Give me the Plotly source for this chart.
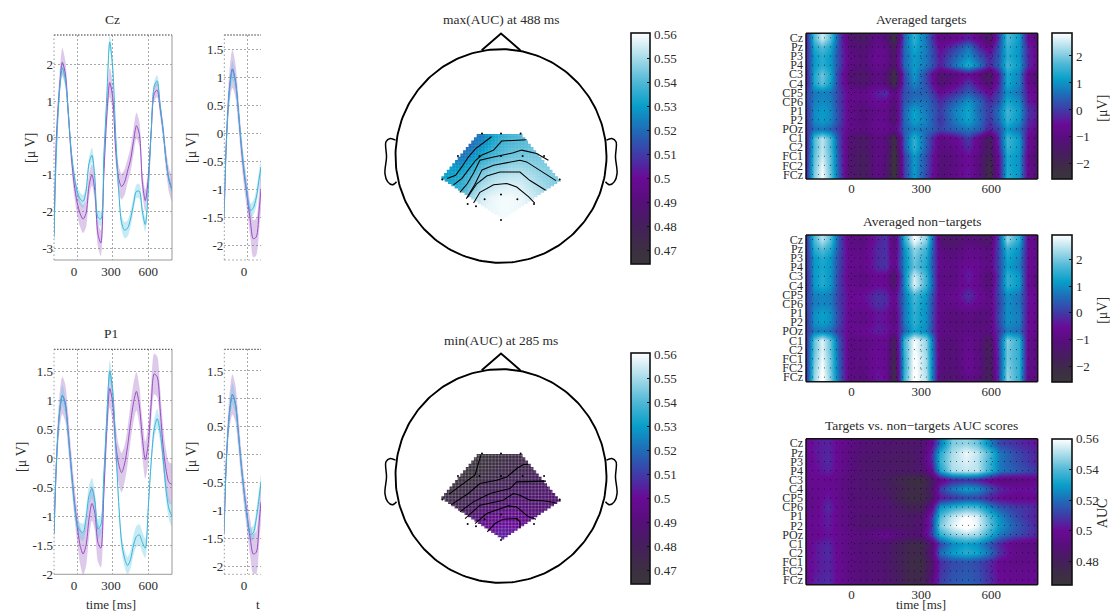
import numpy as np
import plotly.graph_objects as go

W, H = 1110, 612
FONT = "Liberation Serif"
INK = "#2b2b2b"

# ---------- time courses ----------
t_full = [-195,-175,-150,-125,-100,-75,-50,-25,0,25,50,75,100,125,150,175,200,225,250,275,300,325,350,375,400,425,450,475,500,525,550,575,600,625,650,675,700,725,750,775,800]
cz_target = [-2.6,0.0,1.3,2.05,1.75,0.7,-0.45,-1.25,-1.75,-2.05,-2.2,-2.05,-1.3,-1.0,-1.45,-2.6,-2.85,-1.0,0.6,1.5,1.1,-0.3,-1.1,-1.32,-1.2,-0.9,-0.6,-0.1,0.33,0.1,-1.2,-1.7,-1.1,0.2,1.2,1.3,0.8,0.2,-0.6,-1.15,-1.4]
cz_target_ci = [0.3,0.3,0.35,0.38,0.35,0.3,0.28,0.3,0.33,0.36,0.38,0.38,0.33,0.3,0.3,0.33,0.35,0.33,0.38,0.4,0.38,0.35,0.35,0.35,0.35,0.32,0.33,0.35,0.35,0.33,0.3,0.3,0.27,0.22,0.2,0.2,0.22,0.25,0.3,0.33,0.33]
cz_nontarget = [-2.7,-0.4,1.2,1.9,1.6,0.7,-0.35,-1.0,-1.45,-1.65,-1.72,-1.45,-0.7,-0.47,-1.1,-2.15,-2.2,-0.5,1.1,2.6,1.9,0.1,-1.4,-2.3,-2.5,-2.45,-2.2,-1.8,-1.45,-1.45,-2.0,-2.35,-1.4,0.2,1.4,1.55,0.9,0.2,-0.6,-1.15,-1.4]
cz_nontarget_ci = [0.12,0.12,0.15,0.18,0.16,0.13,0.13,0.14,0.15,0.17,0.17,0.17,0.18,0.2,0.18,0.18,0.2,0.17,0.17,0.2,0.18,0.15,0.15,0.2,0.22,0.22,0.22,0.2,0.18,0.2,0.2,0.2,0.17,0.13,0.13,0.15,0.13,0.12,0.12,0.12,0.12]
p1_target = [-1.3,-0.1,0.75,1.08,0.95,0.45,-0.15,-0.7,-1.15,-1.5,-1.65,-1.5,-1.05,-0.78,-0.95,-1.45,-1.55,-0.6,0.5,1.2,0.95,0.25,-0.1,-0.25,-0.1,0.2,0.6,0.95,1.15,0.9,0.35,-0.03,0.25,0.95,1.45,1.4,0.85,0.2,-0.2,-0.42,-0.45]
p1_target_ci = [0.25,0.28,0.3,0.32,0.32,0.3,0.28,0.28,0.28,0.32,0.36,0.36,0.32,0.3,0.3,0.33,0.33,0.3,0.3,0.33,0.33,0.33,0.33,0.34,0.32,0.32,0.32,0.33,0.33,0.33,0.32,0.32,0.33,0.33,0.35,0.35,0.35,0.35,0.35,0.35,0.35]
p1_nontarget = [-1.3,-0.1,0.75,1.08,0.9,0.4,-0.2,-0.75,-1.15,-1.25,-1.28,-1.05,-0.65,-0.52,-0.75,-1.22,-1.15,-0.3,0.7,1.5,1.15,0.25,-0.75,-1.45,-1.72,-1.85,-1.75,-1.5,-1.35,-1.32,-1.45,-1.55,-0.85,-0.05,0.5,0.68,0.45,0.0,-0.55,-0.88,-1.0]
p1_nontarget_ci = [0.1,0.12,0.15,0.18,0.15,0.12,0.12,0.13,0.13,0.14,0.15,0.17,0.18,0.18,0.17,0.17,0.17,0.15,0.15,0.18,0.15,0.13,0.13,0.15,0.15,0.15,0.15,0.17,0.18,0.18,0.18,0.17,0.15,0.15,0.17,0.17,0.17,0.17,0.18,0.18,0.18]

t_short = [-195,-175,-150,-125,-100,-75,-50,-25,0,25,50,75,100,115]
cz2_target = [-1.5,-0.1,0.8,1.15,0.95,0.4,-0.25,-0.75,-1.15,-1.55,-1.88,-1.85,-1.35,-1.0]
cz2_target_ci = [0.2,0.22,0.3,0.34,0.3,0.27,0.25,0.25,0.27,0.3,0.33,0.33,0.35,0.35]
cz2_nontarget = [-1.5,-0.15,0.75,1.12,0.92,0.4,-0.2,-0.7,-1.1,-1.38,-1.33,-1.15,-0.8,-0.6]
cz2_nontarget_ci = [0.1,0.12,0.15,0.18,0.15,0.13,0.13,0.13,0.12,0.12,0.13,0.15,0.15,0.15]
p12_target = [-1.4,-0.05,0.75,1.08,0.92,0.4,-0.2,-0.7,-1.12,-1.5,-1.78,-1.75,-1.2,-0.85]
p12_target_ci = [0.22,0.25,0.3,0.36,0.33,0.3,0.27,0.27,0.28,0.33,0.36,0.38,0.36,0.33]
p12_nontarget = [-1.4,-0.1,0.72,1.08,0.9,0.38,-0.2,-0.7,-1.15,-1.43,-1.4,-1.15,-0.75,-0.5]
p12_nontarget_ci = [0.1,0.12,0.15,0.2,0.17,0.13,0.13,0.13,0.12,0.12,0.13,0.15,0.15,0.15]

# ---------- channel × time maps ----------
channels = ["Cz","Pz","P3","P4","C3","C4","CP5","CP6","P1","P2","POz","C1","C2","FC1","FC2","FCz"]
t_amp = [-195,-160,-125,-90,-55,-10,50,110,150,185,225,270,320,380,440,500,550,590,630,670,720,760,800]
amp_targets = [
[-0.4,1.7,2.5,1.8,0.1,-1.3,-1.6,-0.9,-1.2,-2.4,0.4,1.5,0.6,-1.0,-0.8,-0.3,-0.9,-1.6,-0.1,1.7,1.1,-0.7,-1.1],
[-0.4,1.3,1.7,1.3,0.1,-1.0,-1.3,-0.7,-0.9,-1.7,0.5,1.3,0.7,-0.6,0.0,0.7,-0.2,-0.8,0.2,1.5,1.0,-0.3,-0.8],
[-0.3,1.1,1.4,1.1,0.1,-0.9,-1.2,-0.6,-0.8,-1.5,0.5,1.1,0.7,-0.4,0.4,1.0,0.3,-0.3,0.3,1.4,1.0,-0.3,-0.7],
[-0.3,1.1,1.4,1.1,0.1,-0.9,-1.2,-0.7,-0.9,-1.5,0.5,1.1,0.7,-0.3,0.6,1.4,0.7,-0.2,0.4,1.6,1.1,-0.2,-0.7],
[-0.5,1.3,1.9,1.3,-0.1,-1.2,-1.5,-0.9,-1.2,-2.3,0.1,1.1,0.1,-1.4,-1.1,-0.6,-1.1,-1.7,-0.4,1.3,0.8,-0.9,-1.2],
[-0.5,1.3,1.8,1.2,-0.1,-1.1,-1.4,-0.9,-1.2,-2.2,0.1,0.9,0.2,-1.3,-0.8,0.0,-0.7,-1.4,-0.3,1.3,0.8,-0.8,-1.1],
[0.0,0.7,0.8,0.7,0.0,-0.7,-0.8,-0.3,-0.1,-1.0,0.2,0.5,0.4,-0.6,-0.2,0.4,-0.1,-0.6,0.0,1.0,0.6,-0.5,-0.7],
[0.0,0.8,0.9,0.8,0.0,-0.8,-0.9,-0.5,-0.6,-1.2,0.3,0.7,0.6,-0.2,0.4,1.0,0.5,-0.2,0.2,1.3,0.9,-0.4,-0.6],
[-0.2,0.9,1.1,0.9,0.1,-0.8,-1.2,-0.8,-0.8,-1.4,0.5,1.2,0.7,0.0,0.8,1.25,0.5,0.0,0.6,1.6,1.1,-0.1,-0.4],
[-0.2,0.9,1.1,0.9,0.1,-0.8,-1.1,-0.7,-0.8,-1.4,0.5,1.2,0.8,-0.1,0.7,1.2,0.6,-0.1,0.5,1.5,1.0,-0.2,-0.5],
[-0.2,0.6,0.7,0.5,-0.1,-0.8,-1.0,-0.7,-0.7,-0.9,0.4,0.8,0.6,0.1,0.4,0.7,0.4,-0.3,0.1,1.1,0.6,-0.4,-0.7],
[-0.5,1.7,2.4,1.7,0.1,-1.2,-1.6,-0.9,-1.2,-2.3,0.3,1.5,0.4,-1.0,-0.7,0.0,-0.9,-1.8,-0.2,1.6,1.1,-0.7,-1.1],
[-0.5,1.7,2.4,1.7,0.1,-1.2,-1.5,-0.9,-1.0,-2.3,0.3,1.5,0.4,-1.0,-0.8,-0.2,-0.8,-1.7,-0.3,1.5,1.1,-0.7,-1.0],
[-0.4,1.8,2.5,1.8,0.2,-1.3,-1.7,-0.9,-1.2,-2.5,0.0,1.1,0.2,-1.2,-1.0,-0.5,-1.1,-1.9,-0.6,1.3,1.0,-0.9,-1.4],
[-0.4,1.9,2.7,1.8,0.2,-1.3,-1.7,-0.9,-1.2,-2.5,0.0,1.1,0.2,-1.2,-1.0,-0.5,-1.1,-2.2,-0.6,1.3,1.0,-0.8,-1.2],
[-0.4,2.0,2.8,1.9,0.3,-1.3,-1.7,-0.9,-1.3,-2.5,0.0,1.1,0.1,-1.2,-0.9,-0.4,-1.1,-2.2,-0.6,1.4,1.0,-0.8,-1.3],
]
amp_nontargets = [
[-0.2,1.7,2.4,1.8,0.2,-0.9,-1.1,-0.3,-0.1,-1.3,1.4,2.9,2.1,-1.3,-1.5,-1.1,-1.3,-1.5,0.1,2.2,1.4,-0.7,-0.9],
[-0.2,1.4,1.8,1.4,0.2,-0.8,-0.9,-0.2,-0.1,-1.1,1.0,2.2,1.6,-1.0,-1.2,-0.8,-0.9,-1.1,0.1,1.5,1.0,-0.6,-0.8],
[-0.2,1.1,1.4,1.1,0.1,-0.7,-0.8,-0.2,-0.1,-0.9,0.9,2.0,1.4,-0.9,-1.0,-0.7,-0.8,-1.0,0.1,1.3,0.9,-0.6,-0.8],
[-0.2,1.1,1.3,1.1,0.1,-0.7,-0.8,-0.2,-0.1,-0.9,0.9,1.9,1.3,-0.8,-0.9,-0.5,-0.7,-0.9,0.1,1.2,0.8,-0.6,-0.7],
[-0.3,1.1,1.4,1.1,0.0,-0.8,-1.0,-0.6,-0.7,-1.6,0.9,2.6,1.6,-1.0,-1.0,-0.3,-0.8,-1.3,0.0,1.5,1.1,-0.7,-1.0],
[-0.3,1.1,1.4,1.1,0.0,-0.7,-0.9,-0.5,-0.6,-1.4,0.9,2.7,1.6,-0.9,-0.9,-0.5,-0.8,-1.2,0.1,1.5,1.1,-0.7,-0.9],
[0.0,0.8,0.9,0.8,0.0,-0.6,-0.5,-0.1,-0.2,-0.8,0.7,1.7,1.1,-0.8,-0.7,-0.1,-0.6,-0.9,0.1,1.0,0.7,-0.5,-0.6],
[0.0,0.8,0.9,0.8,0.0,-0.6,-0.6,-0.1,-0.2,-0.8,0.7,1.6,1.0,-0.8,-0.8,-0.4,-0.7,-0.9,0.0,1.0,0.7,-0.5,-0.6],
[-0.1,1.0,1.2,1.0,0.1,-0.7,-0.9,-0.4,-0.5,-1.1,0.7,1.5,1.0,-0.9,-1.1,-0.9,-1.1,-1.1,0.1,1.0,0.8,-0.6,-0.7],
[-0.1,1.0,1.2,1.0,0.1,-0.7,-0.9,-0.4,-0.5,-1.1,0.7,1.5,1.0,-0.9,-1.1,-1.0,-1.1,-1.1,0.1,1.0,0.8,-0.6,-0.7],
[-0.1,0.7,0.8,0.6,-0.1,-0.7,-0.6,-0.3,-0.4,-0.9,0.5,1.3,0.9,-0.9,-1.0,-0.9,-1.0,-1.0,-0.1,0.8,0.6,-0.6,-0.7],
[-0.2,1.9,2.7,1.9,0.3,-0.9,-1.0,-0.7,-0.7,-1.8,1.6,2.9,2.2,-1.1,-1.1,-0.7,-1.0,-1.7,0.0,2.1,1.5,-0.8,-1.0],
[-0.2,1.9,2.7,1.9,0.3,-0.9,-0.9,-0.6,-0.7,-1.9,1.6,2.9,2.2,-1.1,-1.2,-0.7,-1.1,-1.8,0.0,2.0,1.5,-0.8,-1.0],
[-0.2,2.0,2.8,2.0,0.4,-0.9,-1.0,-0.5,-0.7,-2.0,1.5,3.0,2.3,-1.1,-1.2,-0.6,-1.0,-1.8,-0.1,2.0,1.5,-0.8,-1.0],
[-0.2,2.1,2.9,2.0,0.4,-0.9,-1.0,-0.5,-0.7,-2.1,1.5,3.0,2.3,-1.1,-1.2,-0.6,-1.0,-1.8,-0.1,2.1,1.5,-0.8,-1.0],
[-0.2,2.2,3.0,2.1,0.5,-0.9,-1.1,-0.4,-0.6,-2.2,1.6,3.0,2.4,-1.2,-1.3,-0.8,-1.1,-1.9,-0.1,2.2,1.5,-0.9,-1.0],
]
t_auc = [-195,-150,-100,-50,0,50,100,150,200,250,300,340,380,430,490,540,590,640,700,750,800]
auc_scores = [
[.499,.503,.505,.498,.494,.489,.488,.487,.486,.485,.486,.497,.522,.545,.548,.543,.525,.512,.508,.505,.502],
[.498,.503,.506,.497,.492,.488,.487,.485,.484,.484,.487,.505,.535,.55,.558,.553,.54,.522,.514,.509,.505],
[.497,.502,.507,.497,.492,.486,.485,.484,.483,.483,.487,.505,.537,.551,.556,.552,.538,.522,.515,.51,.505],
[.498,.501,.505,.497,.492,.486,.486,.485,.484,.484,.486,.498,.532,.550,.553,.552,.537,.522,.517,.513,.51],
[.497,.499,.498,.495,.49,.487,.485,.482,.476,.471,.470,.482,.495,.505,.508,.505,.498,.492,.492,.494,.497],
[.496,.498,.500,.495,.49,.487,.486,.483,.479,.474,.473,.483,.510,.523,.530,.527,.516,.506,.502,.502,.503],
[.494,.498,.503,.495,.49,.488,.488,.486,.477,.472,.472,.483,.503,.508,.513,.512,.505,.5,.497,.498,.499],
[.495,.498,.507,.496,.491,.489,.49,.488,.483,.478,.478,.495,.528,.535,.54,.538,.525,.515,.51,.508,.505],
[.498,.499,.504,.496,.491,.487,.487,.487,.485,.484,.487,.507,.54,.553,.56,.556,.54,.526,.514,.508,.504],
[.498,.499,.504,.496,.491,.486,.487,.487,.485,.484,.487,.507,.545,.556,.565,.557,.543,.528,.518,.511,.505],
[.497,.498,.502,.497,.495,.492,.495,.498,.492,.488,.49,.51,.535,.545,.55,.548,.535,.522,.514,.51,.505],
[.497,.503,.506,.497,.492,.489,.488,.486,.48,.474,.473,.487,.512,.525,.53,.527,.516,.505,.495,.493,.492],
[.497,.503,.507,.497,.493,.49,.489,.487,.48,.475,.475,.49,.52,.53,.535,.532,.522,.508,.497,.495,.495],
[.498,.503,.506,.498,.493,.49,.489,.486,.48,.473,.472,.485,.507,.513,.515,.513,.507,.498,.495,.495,.497],
[.498,.503,.506,.498,.493,.49,.489,.487,.481,.474,.473,.486,.508,.514,.516,.514,.507,.499,.497,.497,.499],
[.498,.505,.507,.498,.493,.49,.489,.487,.482,.475,.475,.49,.51,.515,.517,.515,.508,.5,.498,.498,.5],
]

# ---------- scalp maps (scalp coordinates: nose up, radius 1) ----------
scalp_x = [-0.56,-0.47,-0.375,-0.28,-0.19,-0.09,0,.09,.19,.28,.375,.47,.56]
scalp_y = [0.205,0.105,0.005,-0.095,-0.195,-0.295,-0.395,-0.495,-0.595]
auc_max = [
[.518,.518,.519,.520,.522,.530,.535,.538,.540,.541,.542,.542,.542],
[.518,.518,.518,.520,.526,.533,.538,.540,.541,.542,.543,.543,.543],
[.524,.522,.521,.526,.533,.538,.541,.543,.544,.544,.544,.544,.544],
[.530,.529,.528,.533,.540,.544,.546,.548,.548,.547,.546,.545,.544],
[.530,.531,.534,.540,.546,.550,.552,.553,.553,.551,.548,.546,.544],
[.532,.533,.536,.544,.551,.554,.556,.557,.556,.553,.550,.547,.545],
[.534,.535,.540,.549,.555,.558,.559,.559,.558,.555,.552,.548,.545],
[.536,.537,.542,.552,.557,.558,.559,.559,.558,.556,.553,.549,.546],
[.538,.539,.544,.553,.557,.558,.559,.559,.558,.556,.553,.549,.546],
]
auc_min = [
[.466,.466,.466,.466,.466,.467,.470,.472,.473,.474,.474,.475,.475],
[.466,.466,.466,.466,.467,.470,.472,.473,.474,.476,.477,.478,.478],
[.467,.467,.467,.468,.470,.473,.475,.476,.477,.478,.479,.480,.480],
[.468,.469,.470,.472,.475,.477,.478,.480,.481,.482,.483,.484,.484],
[.470,.472,.474,.477,.480,.481,.483,.484,.486,.486,.485,.486,.486],
[.473,.475,.478,.481,.485,.487,.489,.491,.490,.488,.488,.487,.486],
[.477,.479,.482,.487,.491,.494,.497,.498,.497,.493,.490,.489,.488],
[.481,.483,.487,.491,.496,.500,.503,.502,.499,.497,.493,.491,.490],
[.485,.487,.490,.494,.498,.503,.505,.503,.500,.498,.495,.493,.492],
]
diamond_x = [-0.205,0.205,0.565,0.0,-0.565]
diamond_y = [0.205,0.205,-0.22,-0.595,-0.22]
electrode_x = [-0.18,0,0.186,-0.408,-0.205,0,0.205,0.408,-0.556,0.556,-0.316,-0.155,0,0.155,0.313,0,-0.237]
electrode_y = [0.21,0.21,0.21,0,0,0,0,0,-0.22,-0.22,-0.45,-0.405,-0.36,-0.405,-0.45,-0.6,-0.47]
contours_max = [
 [(-.51,-.21),(-.43,-.18),(-.37,-.10),(-.31,-.01),(-.24,.07),(-.17,.12),(-.09,.18)],
 [(-.45,-.27),(-.37,-.21),(-.31,-.13),(-.24,-.04),(-.18,.01),(-.07,.055),(.006,.14),(.149,.147),(.243,.153)],
 [(-.39,-.34),(-.32,-.26),(-.26,-.16),(-.2,-.04),(-.07,-.01),(.117,.03),(.196,.055),(.338,.024),(.449,-.04)],
 [(-.33,-.40),(-.25,-.27),(-.18,-.13),(-.07,-.086),(.18,-.04),(.243,-.055),(.521,-.23)],
 [(-.32,-.39),(-.23,-.26),(-.136,-.187),(-.01,-.15),(.18,-.15),(.275,-.23),(.423,-.32)],
 [(-.26,-.44),(-.2,-.34),(-.07,-.27),(.054,-.257),(.149,-.29),(.26,-.38),(.32,-.44)],
]
contours_min = [
 [(-.493,-.17),(-.356,-.07),(-.246,.01),(-.215,.117),(-.19,.195)],
 [(-.474,-.27),(-.31,-.164),(-.2,-.07),(-.04,-.04),(.054,-.01),(.149,.07),(.212,.108),(.259,.108)],
 [(-.389,-.335),(-.262,-.242),(-.104,-.164),(.085,-.117),(.149,-.055),(.275,-.055),(.427,-.048)],
 [(-.341,-.398),(-.199,-.273),(.022,-.226),(.117,-.164),(.18,-.18),(.275,-.226),(.401,-.232),(.518,-.25)],
 [(-.246,-.445),(-.136,-.351),(.07,-.28),(.149,-.29),(.26,-.382),(.332,-.404)],
 [(-.13,-.523),(-.057,-.445),(.022,-.404),(.149,-.398),(.18,-.429),(.18,-.485)],
]
nose_x = [-0.183,0,0.183]
nose_y = [0.99,1.147,0.99]
ear_x = [1.0,1.05,1.09,1.085,1.10,1.075,1.03,0.99]
ear_y = [0.148,0.164,0.133,-0.01,-0.165,-0.24,-0.27,-0.24]

# ---------- shared style ----------
scale_stops = [(0,"#3a363c"),(.06,"#3c2f42"),(.164,"#451f5c"),(.268,"#560f7a"),(.372,"#6a0a96"),(.476,"#3f3ca8"),(.58,"#1f6cb8"),(.684,"#089fc9"),(.788,"#4fb8d6"),(.893,"#a8dcea"),(1,"#ffffff")]
PURPLE, BLUE = "#9a4cc4", "#35b6d8"
PURPLE_F, BLUE_F = "rgba(150,90,190,0.32)", "rgba(90,195,225,0.34)"

def dom(a, b, size):
    return [a / size, b / size]
def ydom(top, bot):
    return [1 - bot / H, 1 - top / H]

fig = go.Figure()
layout = dict(
    width=W, height=H, margin=dict(l=0, r=0, t=0, b=0, autoexpand=False),
    paper_bgcolor="white", plot_bgcolor="white", showlegend=False,
    font=dict(family=FONT, color=INK, size=13), shapes=[], annotations=[],
)

def note(text, x, y, size=13.5, rot=0, color=INK):
    layout["annotations"].append(dict(text=text, x=x / W, y=1 - y / H, xref="paper", yref="paper",
                                      showarrow=False, textangle=rot, font=dict(size=size, color=color, family=FONT),
                                      xanchor="center", yanchor="middle"))

axis_id = [0]
def new_axes(l, r, t, b, xopt, yopt):
    axis_id[0] += 1
    n = axis_id[0]
    s = "" if n == 1 else str(n)
    layout["xaxis" + s] = dict(domain=dom(l, r, W), anchor="y" + s, **xopt)
    layout["yaxis" + s] = dict(domain=ydom(t, b), anchor="x" + s, **yopt)
    return "x" + s, "y" + s

def frame_line(xa, ya, x0, y0, x1, y1, color, dash, width=1):
    layout["shapes"].append(dict(type="line", xref=xa + " domain", yref=ya + " domain", x0=x0, y0=y0, x1=x1, y1=y1,
                                 line=dict(color=color, dash=dash, width=width), layer="above"))

def line_panel(l, r, t, b, xr, yr, yticks, t_vals, m1, c1, m2, c2, solid_frame):
    grid = dict(showgrid=True, gridcolor="#aaaaaa", griddash="1.5px,2.5px", gridwidth=1, zeroline=False)
    xa, ya = new_axes(l, r, t, b,
        dict(range=xr, tickvals=[0, 300, 600], ticktext=["0\u00a0\u00a0", "300\u00a0", "600"], ticks="", ticklabelstandoff=2, tickfont=dict(size=13), **grid),
        dict(range=yr, tickvals=yticks, ticktext=[("%g" % v) for v in yticks], ticks="", tickfont=dict(size=13), **grid))
    tv = np.array(t_vals)
    for m, c, f in ((m1, c1, PURPLE_F), (m2, c2, BLUE_F)):
        mm, cc = np.array(m), np.array(c)
        fig.add_trace(go.Scatter(x=np.r_[tv, tv[::-1]], y=np.r_[mm + cc, (mm - cc)[::-1]], mode="lines", fill="toself",
                                 fillcolor=f, line=dict(width=0, shape="spline", smoothing=0.8), xaxis=xa, yaxis=ya, hoverinfo="skip"))
    for m, col in ((m1, PURPLE), (m2, BLUE)):
        fig.add_trace(go.Scatter(x=t_vals, y=m, mode="lines", line=dict(color=col, width=1.0, shape="spline", smoothing=0.8),
                                 xaxis=xa, yaxis=ya, hoverinfo="skip"))
    frame_line(xa, ya, 0, 1, 1, 1, "#333333", "1.5px,1.5px")
    frame_line(xa, ya, 0, 0, 0, 1, "#999999", "1.5px,2.5px")
    if solid_frame:
        frame_line(xa, ya, 1, 0, 1, 1, "#999999", "solid")
        frame_line(xa, ya, 0, 0, 1, 0, "#999999", "solid")
    else:
        frame_line(xa, ya, 0, 0, 1, 0, "#999999", "1.5px,2.5px")

TR = [-195, 800]
line_panel(54, 172, 35, 260, TR, [-3.31, 2.79], [-3, -2, -1, 0, 1, 2], t_full, cz_target, cz_target_ci, cz_nontarget, cz_nontarget_ci, True)
line_panel(224.3, 261, 35, 260, [-193, 115], [-2.26, 1.755], [-2, -1.5, -1, -0.5, 0, 0.5, 1, 1.5], t_short, cz2_target, cz2_target_ci, cz2_nontarget, cz2_nontarget_ci, False)
line_panel(54, 172, 349.3, 574.3, TR, [-2.0, 1.874], [-2, -1.5, -1, -0.5, 0, 0.5, 1, 1.5], t_full, p1_target, p1_target_ci, p1_nontarget, p1_nontarget_ci, True)
line_panel(224.3, 261, 349.3, 574.3, [-193, 115], [-2.143, 1.888], [-2, -1.5, -1, -0.5, 0, 0.5, 1, 1.5], t_short, p12_target, p12_target_ci, p12_nontarget, p12_nontarget_ci, False)

note("Cz", 112, 20)
note("P1", 111, 334)
note("[μ V]", 30, 148, 14, -90)
note("[μ V]", 191, 148, 14, -90)
note("[μ V]", 21, 457, 14, -90)
note("[μ V]", 191, 457, 14, -90)
note("time [ms]", 111, 604.5, 13)
note("t", 258, 604.5, 13)

# ---------- scalp panels ----------
def bar(left, top, bottom, tickvals, ticktext):
    return dict(thickness=left[1] - left[0], thicknessmode="pixels", len=bottom - top, lenmode="pixels",
                x=left[0] / W, xanchor="left", xpad=0, y=1 - top / H, yanchor="top", ypad=0,
                outlinecolor="#111111", outlinewidth=1.6, tickvals=tickvals, ticktext=ticktext,
                ticks="inside", ticklen=3, tickcolor="#111111", tickfont=dict(size=13, family=FONT, color=INK))

def stair(xs, ys, dx=0.031):
    px, py = [], []
    n = len(xs)
    for i in range(n):
        x0, y0, x1, y1 = xs[i], ys[i], xs[(i + 1) % n], ys[(i + 1) % n]
        k = max(1, int(round(max(abs(x1 - x0), abs(y1 - y0)) / dx)))
        for j in range(k):
            xa = x0 + (x1 - x0) * j / k
            ya = y0 + (y1 - y0) * j / k
            yb = y0 + (y1 - y0) * (j + 1) / k
            px += [xa, xa]
            py += [ya, yb]
    return px, py

def head_panel(cy, z, contours, title, bar_top, grid_alpha):
    xa, ya = new_axes(501 - 126.6, 501 + 126.6, cy - 128.2, cy + 128.2,
                      dict(range=[-1.2, 1.2], visible=False),
                      dict(range=[-1.2, 1.2], visible=False))
    ticks = [.47, .48, .49, .5, .51, .52, .53, .54, .55, .56]
    fig.add_trace(go.Heatmap(x=scalp_x, y=scalp_y[::-1], z=z[::-1], zmin=.4643, zmax=.5603, zsmooth="best",
                             colorscale=scale_stops, xaxis=xa, yaxis=ya, hoverinfo="skip",
                             colorbar=bar((630.7, 650), bar_top, bar_top + 231, ticks, ["%g" % v for v in ticks])))
    gx, gy = [], []
    for v in np.arange(-0.59, 0.6, 0.0315):
        gx += [v, v, None]; gy += [-0.65, 0.25, None]
    for v in np.arange(-0.65, 0.25, 0.0312):
        gx += [-0.6, 0.6, None]; gy += [v, v, None]
    fig.add_trace(go.Scatter(x=gx, y=gy, mode="lines", line=dict(color="rgba(255,255,255,%g)" % grid_alpha, width=1),
                             xaxis=xa, yaxis=ya, hoverinfo="skip"))
    sx, sy = stair(diamond_x, diamond_y)
    fig.add_trace(go.Scatter(x=[-0.72, 0.72, 0.72, -0.72, -0.72, None] + sx + [sx[0]],
                             y=[-0.72, -0.72, 0.32, 0.32, -0.72, None] + sy + [sy[0]],
                             mode="lines", fill="toself", fillcolor="white", line=dict(width=0),
                             xaxis=xa, yaxis=ya, hoverinfo="skip"))
    for c in contours:
        fig.add_trace(go.Scatter(x=[p[0] for p in c], y=[p[1] for p in c], mode="lines",
                                 line=dict(color="black", width=1.05), xaxis=xa, yaxis=ya, hoverinfo="skip"))
    fig.add_trace(go.Scatter(x=electrode_x, y=electrode_y, mode="markers", marker=dict(color="black", size=2),
                             xaxis=xa, yaxis=ya, hoverinfo="skip"))
    th = np.linspace(0, 2 * np.pi, 241)
    outline = dict(color="black", width=1.9)
    fig.add_trace(go.Scatter(x=np.cos(th), y=np.sin(th), mode="lines", line=outline, xaxis=xa, yaxis=ya, hoverinfo="skip"))
    fig.add_trace(go.Scatter(x=nose_x, y=nose_y, mode="lines", line=outline, xaxis=xa, yaxis=ya, hoverinfo="skip"))
    ear = dict(color="black", width=1.5, shape="spline")
    fig.add_trace(go.Scatter(x=ear_x, y=ear_y, mode="lines", line=ear, xaxis=xa, yaxis=ya, hoverinfo="skip"))
    fig.add_trace(go.Scatter(x=[-v for v in ear_x], y=ear_y, mode="lines", line=ear, xaxis=xa, yaxis=ya, hoverinfo="skip"))
    note(title, 501, cy - 136)

head_panel(156, auc_max, contours_max, "max(AUC) at 488 ms", 33.3, 0.08)
head_panel(476, auc_min, contours_min, "min(AUC) at 285 ms", 353.3, 0.2)

# ---------- channel × time panels ----------
def map_panel(t, b, t_vals, z, zr, ticks, labels, title, cb_title):
    xa, ya = new_axes(806, 1037.7, t, b,
        dict(range=[-195, 800], tickvals=[0, 300, 600], ticktext=["0", "300", "600"], ticks="", showgrid=False, zeroline=False, tickfont=dict(size=13)),
        dict(range=[15.5, -0.5], tickvals=list(range(len(channels))), ticktext=channels, ticks="", showgrid=False, zeroline=False,
             tickfont=dict(size=12), ticklabelstandoff=2))
    fig.add_trace(go.Heatmap(x=t_vals, y=list(range(len(channels))), z=z, zmin=zr[0], zmax=zr[1], zsmooth="best",
                             colorscale=scale_stops, xaxis=xa, yaxis=ya, hoverinfo="skip",
                             colorbar=bar((1051.7, 1071.5), t, b, ticks, labels)))
    gx, gy = [], []
    for i in range(len(channels)):
        gx += [-195, 800, None]; gy += [i, i, None]
    for v in [0, 300, 600]:
        gx += [v, v, None]; gy += [15.5, -0.5, None]
    fig.add_trace(go.Scatter(x=gx, y=gy, mode="lines", line=dict(color="rgba(0,0,0,0.6)", width=1, dash="1px,5px"),
                             xaxis=xa, yaxis=ya, hoverinfo="skip"))
    for (x0, y0, x1, y1) in ((0, 0, 1, 0), (0, 1, 1, 1), (0, 0, 0, 1), (1, 0, 1, 1)):
        frame_line(xa, ya, x0, y0, x1, y1, "#111111", "solid", 1.5)
    note(title, 921.5, t - 13.5)
    note(cb_title, 1102.5, (t + b) / 2 + 2, 14, -90)

amp_ticks = [-2, -1, 0, 1, 2]
amp_labels = ["−2", "−1", "0", "1", "2"]
map_panel(33.3, 179, t_amp, amp_targets, (-2.57, 2.84), amp_ticks, amp_labels, "Averaged targets", "[μV]")
map_panel(235, 381.7, t_amp, amp_nontargets, (-2.59, 2.91), amp_ticks, amp_labels, "Averaged non−targets", "[μV]")
auc_ticks = [.48, .5, .52, .54, .56]
map_panel(438.7, 584.7, t_auc, auc_scores, (.465, .56), auc_ticks, ["%g" % v for v in auc_ticks], "Targets vs. non−targets AUC scores", "AUC")
note("time [ms]", 921, 604.5, 13)

fig.update_layout(**layout)
fig.write_html("out.html", config=dict(displayModeBar=False),
               post_script="document.body.style.margin='0';document.body.style.overflow='hidden';")
